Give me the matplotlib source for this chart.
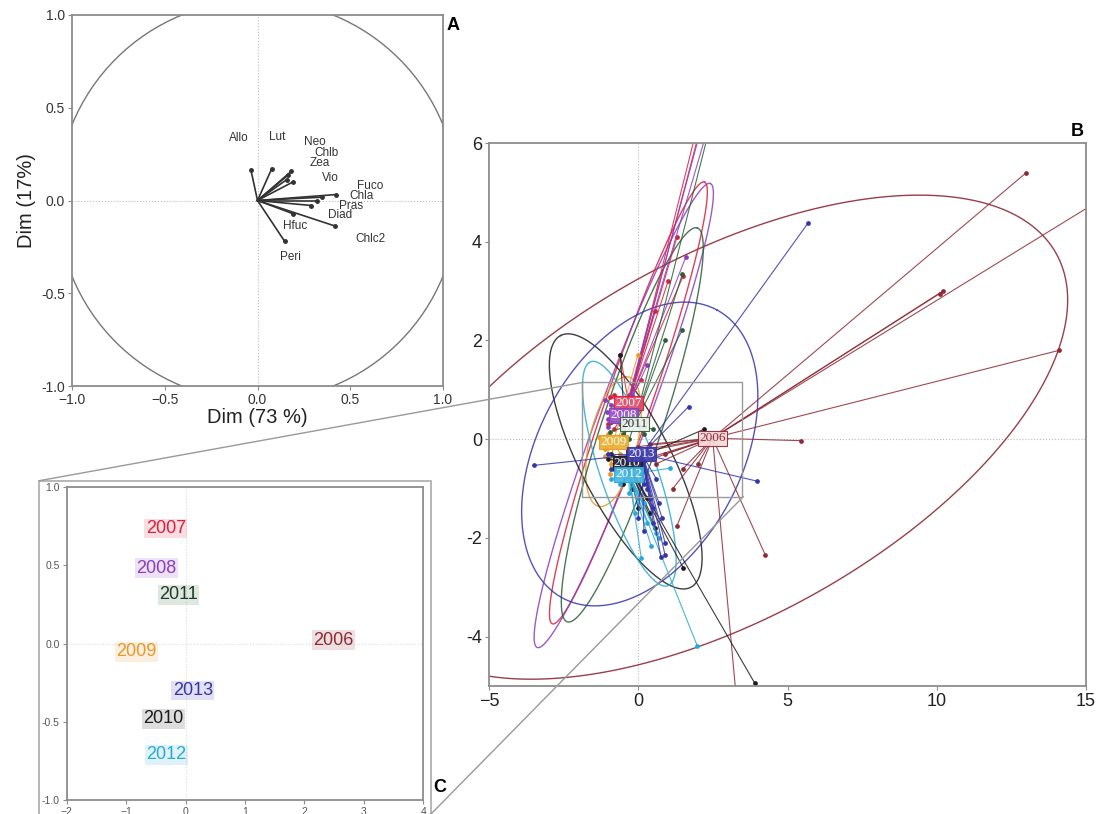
import numpy as np
import matplotlib.pyplot as plt
from matplotlib.patches import Rectangle, Circle
from matplotlib.lines import Line2D

plt.rcParams['font.family'] = ['Liberation Sans', 'DejaVu Sans']

W, H = 1109, 814

# ---- panel A: variables (correlation circle) ----
var_names = ['Allo', 'Lut', 'Neo', 'Chlb', 'Zea', 'Vio', 'Fuco', 'Chla', 'Pras', 'Diad', 'Hfuc', 'Chlc2', 'Peri']
var_x = [-0.036, 0.077, 0.183, 0.165, 0.158, 0.189, 0.422, 0.35, 0.32, 0.29, 0.194, 0.419, 0.147]
var_y = [0.167, 0.172, 0.158, 0.137, 0.113, 0.099, 0.032, 0.018, 0.0, -0.027, -0.072, -0.138, -0.221]
lab_x = [-0.099, 0.104, 0.309, 0.374, 0.338, 0.395, 0.607, 0.56, 0.507, 0.446, 0.201, 0.607, 0.176]
lab_y = [0.338, 0.341, 0.314, 0.255, 0.201, 0.122, 0.077, 0.023, -0.027, -0.079, -0.138, -0.21, -0.304]
circle_radius = 1.08

# ---- panels B / C: years ----
years = ['2006', '2007', '2008', '2009', '2010', '2011', '2012', '2013']
year_colors = ['#8e2a35', '#d81f3c', '#8b3dbd', '#e69a2a', '#1c1c1c', '#2b5e36', '#2aa9d6', '#3535a8']
label_face = ['#f6dada', '#e0506a', '#9a55c8', '#eab030', '#22223a', '#f2f2f2', '#45b8e0', '#4040b0']
label_text = ['#8e2a35', 'white', 'white', 'white', 'white', '#1e3b24', 'white', 'white']
text_c = ['#8e2a35', '#d81f3c', '#8b3dbd', '#e69a2a', '#1c1c1c', '#1e3b24', '#2aa9d6', '#3535a8']
cent_x = [2.49, -0.33, -0.485, -0.83, -0.37, -0.12, -0.32, 0.12]
cent_y = [0.02, 0.735, 0.48, -0.054, -0.48, 0.31, -0.71, -0.30]

pts_2006 = [(13.0, 5.4), (14.1, 1.8), (10.2, 3.0), (10.1, 2.95), (17.5, 5.6), (5.45, -0.03),
            (4.26, -2.35), (1.16, -1.0), (3.4, -6.0), (0.3, -0.2), (0.5, -0.35), (0.2, -0.45),
            (0.6, -0.5), (0.9, -0.3), (1.5, -0.6), (2.0, -0.5), (1.3, -1.75), (-0.2, -0.3),
            (0.0, -0.15), (0.4, -0.1)]
pts_2007 = [(1.5, 3.3), (1.0, 3.2), (0.55, 2.6), (2.5, 7.6), (2.9, 8.2), (-0.6, 1.7),
            (-0.8, 0.9), (-0.7, 0.6), (-0.3, 0.9), (0.1, 1.2), (1.3, 4.1), (-0.95, 0.85),
            (-1.0, 0.3), (-0.8, 0.2)]
pts_2008 = [(2.6, 7.4), (3.3, 8.3), (-0.9, 0.7), (-1.0, 0.4), (-0.6, 0.3), (0.3, 1.5),
            (-0.2, 0.9), (1.6, 3.7), (-1.05, 0.55), (-1.0, 0.25), (-1.1, 0.8)]
pts_2009 = [(-0.02, 1.70), (-1.1, -0.2), (-1.0, 0.1), (-0.6, -0.3), (-1.3, 0.05), (-0.5, 0.2),
            (-0.9, -0.5), (-1.1, -0.35), (-1.05, 0.0), (-0.95, -0.7)]
pts_2010 = [(3.9, -4.94), (1.51, -2.61), (0.55, -1.79), (-0.6, 1.7), (-0.8, -0.6), (-0.2, -1.0),
            (0.3, -1.2), (-0.5, -0.9), (0.1, -0.7), (2.2, 0.2), (-1.0, -0.4), (-0.9, -0.3),
            (0.0, -1.4), (0.4, -1.5)]
pts_2011 = [(1.48, 2.22), (1.48, 3.35), (0.9, 2.0), (-0.5, 0.1), (-0.3, 0.0), (0.2, 0.1),
            (-0.1, 0.6), (0.5, 0.2), (2.6, 6.8), (-0.95, 0.15), (-0.9, 0.35)]
pts_2012 = [(1.98, -4.19), (0.43, -2.16), (1.05, -0.59), (-0.1, -1.49), (-0.3, -1.1), (0.2, -1.3),
            (-0.6, -0.9), (0.6, -1.9), (0.1, -2.4), (-0.9, -0.8), (-0.8, -0.6), (0.3, -1.7),
            (0.7, -2.0)]
pts_2013 = [(5.69, 4.38), (3.98, -0.85), (1.69, 0.66), (-3.49, -0.53), (0.76, -2.39), (0.19, -1.85),
            (0.9, -2.1), (0.5, -1.4), (0.3, -1.0), (0.6, -0.8), (-0.2, -0.6), (0.0, -1.6),
            (0.4, -1.2), (0.8, -1.6), (-1.0, -0.3), (-0.9, -0.6), (0.2, -0.9), (0.7, -1.3),
            (0.5, -1.7), (0.9, -2.35)]
year_points = [pts_2006, pts_2007, pts_2008, pts_2009, pts_2010, pts_2011, pts_2012, pts_2013]

# 2006 ellipse outline
ell06_x = [10.3, 13.43, 14.27, 14.1, 13.33, 10.48, 6.19, 1.71, 0.03, -2.42, -3.88, -5.07, 0.19, 4.76]
ell06_y = [5.08, 4.23, 3.42, 2.68, 1.21, -1.41, -3.14, -4.03, -4.47, -4.84, -5.0, 1.02, 3.24, 4.43]

# other ellipses: centre, half-axis u, conjugate half-axis v (data units)
ell_years = ['2007', '2008', '2009', '2010', '2011', '2012', '2013']
ell_center = [(-0.33, 0.735), (-0.485, 0.48), (-0.83, -0.05), (-0.42, -0.45),
              (-0.2, 0.29), (-0.3, -0.7), (0.05, -0.3)]
ell_u = [(2.55, 4.475), (2.9, 4.7), (0.55, 1.3), (-2.18, 2.55),
         (2.18, 3.99), (-1.35, 2.25), (2.58, 2.92)]
ell_v = [(0.7, -0.17), (0.78, -0.18), (-0.75, 0.2), (1.34, 0.42),
         (0.95, -0.19), (0.8, 0.35), (-3.0, 0.97)]

zoom_box = (-1.87, -1.17, 5.36, 2.32)  # x, y, w, h in panel B units

fig = plt.figure(figsize=(W / 100, H / 100), dpi=100)


def style_axes(ax, labelsize, lc='#333333'):
    for s in ax.spines.values():
        s.set_color('#8c8c8c')
        s.set_linewidth(1.3)
    ax.tick_params(length=3, color='#8c8c8c', labelsize=labelsize, labelcolor=lc, pad=2)


# ---------------- A ----------------
axA = fig.add_axes([72 / W, 1 - 386 / H, 371 / W, 371 / H])
axA.set_xlim(-1, 1)
axA.set_ylim(-1, 1)
axA.add_patch(Circle((0, 0), circle_radius, fill=False, ec='#777777', lw=1.0))
axA.axhline(0, color='#bbbbbb', lw=0.8, ls=':')
axA.axvline(0, color='#bbbbbb', lw=0.8, ls=':')
for name, x, y, lx, ly in zip(var_names, var_x, var_y, lab_x, lab_y):
    axA.plot([0, x], [0, y], color='#333333', lw=1.2)
    axA.plot(x, y, 'o', ms=2.5, color='#333333')
    axA.text(lx, ly, name, fontsize=8.5, ha='center', va='center', color='#333333')
axA.set_xticks([-1, -0.5, 0, 0.5, 1])
axA.set_yticks([-1, -0.5, 0, 0.5, 1])
axA.set_xticklabels(['\u22121.0', '\u22120.5', '0.0', '0.5', '1.0'])
axA.set_yticklabels(['-1.0', '-0.5', '0.0', '0.5', '1.0'])
style_axes(axA, 10)
axA.set_xlabel('Dim (73 %)', fontsize=14.5, labelpad=1, color='#222222')
axA.set_ylabel('Dim (17%)', fontsize=14.5, labelpad=4, color='#222222')

# ---------------- B ----------------
axB = fig.add_axes([489 / W, 1 - 686 / H, 597 / W, 543 / H])
axB.set_xlim(-5, 15)
axB.set_ylim(-5, 6)
axB.axhline(0, color='#bbbbbb', lw=0.8, ls=':')
axB.axvline(0, color='#bbbbbb', lw=0.8, ls=':')

# 2006 ellipse: conic fitted through the traced outline
ex = np.array(ell06_x)
ey = np.array(ell06_y)
M = np.column_stack([ex ** 2, ex * ey, ey ** 2, ex, ey])
coef = np.linalg.lstsq(M, np.ones(len(ex)), rcond=None)[0]
gx, gy = np.meshgrid(np.linspace(-14, 22, 500), np.linspace(-12, 12, 400))
gz = coef[0] * gx ** 2 + coef[1] * gx * gy + coef[2] * gy ** 2 + coef[3] * gx + coef[4] * gy
axB.contour(gx, gy, gz, levels=[1], colors=[year_colors[0]], linewidths=1.0, alpha=0.9)

t = np.linspace(0, 2 * np.pi, 300)
for yr, c, u, v in zip(ell_years, ell_center, ell_u, ell_v):
    col = year_colors[years.index(yr)]
    px = c[0] + np.cos(t) * u[0] + np.sin(t) * v[0]
    py = c[1] + np.cos(t) * u[1] + np.sin(t) * v[1]
    axB.plot(px, py, color=col, lw=1.0, alpha=0.85)
for col, cx, cy, pts in zip(year_colors, cent_x, cent_y, year_points):
    for px, py in pts:
        axB.plot([cx, px], [cy, py], color=col, lw=0.8, alpha=0.85)
        axB.plot(px, py, 'o', ms=2.4, color=col)
axB.add_patch(Rectangle(zoom_box[:2], zoom_box[2], zoom_box[3], fill=False, ec='#999999', lw=1.0, zorder=3))
for yr, col, fc, tc, cx, cy in zip(years, year_colors, label_face, label_text, cent_x, cent_y):
    axB.text(cx, cy, yr, fontsize=9.5, family=['Liberation Serif', 'DejaVu Serif'], color=tc,
             ha='center', va='center', zorder=5,
             bbox=dict(boxstyle='square,pad=0.1', fc=fc, ec=col, lw=0.8, alpha=0.92))
axB.set_xticks([-5, 0, 5, 10, 15])
axB.set_yticks([-4, -2, 0, 2, 4, 6])
axB.set_xticklabels(['\u22125', '0', '5', '10', '15'])
axB.set_yticklabels(['-4', '-2', '0', '2', '4', '6'])
style_axes(axB, 13, '#222222')

# ---------------- C ----------------
axC = fig.add_axes([66.7 / W, 1 - 800 / H, 356.6 / W, 313 / H])
axC.set_xlim(-2, 4)
axC.set_ylim(-1, 1)
axC.axhline(0, color='#dddddd', lw=0.8, ls=':')
axC.axvline(0, color='#dddddd', lw=0.8, ls=':')
for yr, col, tc, cx, cy in zip(years, year_colors, text_c, cent_x, cent_y):
    axC.text(cx, cy, yr, fontsize=13, color=tc, ha='center', va='center',
             bbox=dict(boxstyle='square,pad=0.08', fc=col, ec='none', alpha=0.15))
axC.set_xticks([-2, -1, 0, 1, 2, 3, 4])
axC.set_yticks([-1, -0.5, 0, 0.5, 1])
axC.set_yticklabels(['-1.0', '-0.5', '0.0', '0.5', '1.0'])
style_axes(axC, 7.5, '#555555')

# outer frame of C and zoom connectors
fig.add_artist(Rectangle((39 / W, -0.01), (431 - 39) / W, (814 - 481) / H + 0.01,
                         transform=fig.transFigure, fill=False, ec='#aaaaaa', lw=1.2))
fig.add_artist(Line2D([39.3 / W, 583.3 / W], [1 - 480.7 / H, 1 - 382.3 / H],
                      transform=fig.transFigure, color='#999999', lw=1.0, zorder=5))
fig.add_artist(Line2D([431 / W, 743.3 / W], [1 - 814 / H, 1 - 496.7 / H],
                      transform=fig.transFigure, color='#999999', lw=1.0, zorder=5))

fig.text(453 / W, 1 - 26 / H, 'A', fontsize=13, fontweight='bold', ha='center', va='center')
fig.text(1077 / W, 1 - 131 / H, 'B', fontsize=13, fontweight='bold', ha='center', va='center')
fig.text(440 / W, 1 - 788 / H, 'C', fontsize=13, fontweight='bold', ha='center', va='center')

fig.savefig('out.png', dpi=100)
